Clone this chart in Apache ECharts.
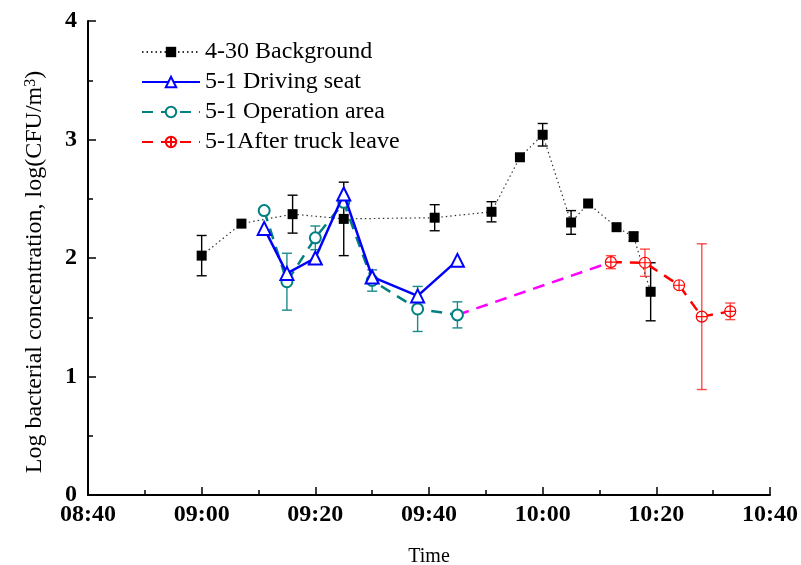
<!DOCTYPE html>
<html>
<head>
<meta charset="utf-8">
<script src="https://cdn.jsdelivr.net/npm/echarts@6/dist/echarts.min.js"></script>
<style>
  html, body { margin: 0; padding: 0; background: #fff; }
  #chart { width: 801px; height: 565px; }
</style>
</head>
<body>
<div id="chart"></div>
<script>
// 4-30 background sampling
const bgTimes  = ['09:00','09:07','09:16','09:25','09:41','09:51','09:56','10:00','10:05','10:08','10:13','10:16','10:19'];
const bgValues = [2.02, 2.29, 2.37, 2.33, 2.34, 2.39, 2.85, 3.04, 2.30, 2.46, 2.26, 2.18, 1.715];
const bgErr    = [0.17, null, 0.16, 0.31, 0.11, 0.085, null, 0.095, 0.10, null, null, 0.04, 0.245];

// 5-1 driving seat
const dsTimes  = ['09:11','09:15','09:20','09:25','09:30','09:38','09:45'];
const dsValues = [2.25, 1.87, 2.00, 2.54, 1.84, 1.68, 1.98];

// 5-1 operation area
const opTimes  = ['09:11','09:15','09:20','09:25','09:30','09:38','09:45'];
const opValues = [2.40, 1.80, 2.17, 2.47, 1.81, 1.57, 1.52];
const opErr    = [0.02, 0.24, 0.10, 0.03, 0.09, 0.19, 0.11];

// 5-1 after the truck left
const atTimes  = ['10:12','10:18','10:24','10:28','10:33'];
const atValues = [1.965, 1.96, 1.77, 1.505, 1.55];
const atErr    = [0.055, 0.115, null, 0.615, 0.07];

const yTicks = [0, 1, 2, 3, 4];
const xTickStart = '08:40', xTickEnd = '10:40';

const toMin = s => { const p = s.split(':').map(Number); return p[0] * 60 + p[1]; };
const pad = n => (n < 10 ? '0' : '') + n;
const fmt = v => pad(Math.floor(v / 60)) + ':' + pad(v % 60);

const pts = (t, v) => t.map((s, i) => [toMin(s), v[i]]);
const bars = (t, v, e) => t.map((s, i) => e[i] == null ? null : [toMin(s), v[i] - e[i], v[i] + e[i]]).filter(Boolean);

const FONT = 'Liberation Serif';
const TEAL = '#008080';
const crossCircle = 'path://M0,10A10,10,0,1,1,20,10A10,10,0,1,1,0,10ZM10,0L10,20M0,10L20,10';

function errorSeries(data, color, z) {
  return {
    type: 'custom',
    data: data,
    z: z,
    encode: { x: 0, y: [1, 2] },
    renderItem: function (params, api) {
      const x = api.value(0);
      const top = api.coord([x, api.value(2)]);
      const bot = api.coord([x, api.value(1)]);
      const w = 5;
      const st = { stroke: color, lineWidth: 1.4, fill: null };
      return {
        type: 'group',
        children: [
          { type: 'line', shape: { x1: top[0], y1: top[1], x2: bot[0], y2: bot[1] }, style: st },
          { type: 'line', shape: { x1: top[0] - w, y1: top[1], x2: top[0] + w, y2: top[1] }, style: st },
          { type: 'line', shape: { x1: bot[0] - w, y1: bot[1], x2: bot[0] + w, y2: bot[1] }, style: st }
        ]
      };
    }
  };
}

const chart = echarts.init(document.getElementById('chart'));
chart.setOption({
  animation: false,
  backgroundColor: '#fff',
  textStyle: { fontFamily: FONT },
  grid: { left: 88, right: 31, top: 21, bottom: 70, containLabel: false, outerBoundsMode: 'none' },
  legend: {
    data: ['4-30 Background', '5-1 Driving seat', '5-1 Operation area', '5-1After truck leave'],
    orient: 'vertical',
    left: 141,
    top: 40,
    padding: 0,
    itemWidth: 58,
    itemHeight: 13,
    itemGap: 6,
    textStyle: { fontFamily: FONT, fontSize: 24, color: '#000' }
  },
  xAxis: {
    type: 'value',
    min: toMin(xTickStart),
    max: toMin(xTickEnd),
    interval: 20,
    name: 'Time',
    nameLocation: 'middle',
    nameGap: 52,
    nameTextStyle: { fontFamily: FONT, fontSize: 20, color: '#000' },
    axisLine: { lineStyle: { color: '#000', width: 2 } },
    axisTick: { inside: true, length: 8, lineStyle: { color: '#000', width: 1.5 } },
    minorTick: { show: true, splitNumber: 2, length: 5, lineStyle: { color: '#000', width: 1.5 } },
    splitLine: { show: false },
    axisLabel: { formatter: fmt, fontFamily: FONT, fontSize: 24, fontWeight: 'bold', color: '#000', margin: 8 }
  },
  yAxis: {
    type: 'value',
    min: yTicks[0],
    max: yTicks[yTicks.length - 1],
    interval: 1,
    name: 'Log bacterial concentration, log(CFU/m{sup|3})',
    nameLocation: 'middle',
    nameGap: 41,
    nameTextStyle: {
      fontFamily: FONT, fontSize: 24, color: '#000',
      padding: [0, 28, 0, 0],
      rich: { sup: { fontFamily: FONT, fontSize: 16, color: '#000', verticalAlign: 'top', padding: [0, 0, 8, 0] } }
    },
    axisLine: { show: true, lineStyle: { color: '#000', width: 2 } },
    axisTick: { show: true, inside: true, length: 8, lineStyle: { color: '#000', width: 1.5 } },
    minorTick: { show: true, splitNumber: 2, length: 5, lineStyle: { color: '#000', width: 1.5 } },
    splitLine: { show: false },
    axisLabel: { fontFamily: FONT, fontSize: 24, fontWeight: 'bold', color: '#000', margin: 11 }
  },
  series: [
    errorSeries(bars(bgTimes, bgValues, bgErr), '#000', 2),
    errorSeries(bars(opTimes, opValues, opErr), '#1a8a8a', 2),
    errorSeries(bars(atTimes, atValues, atErr), 'rgba(255,30,30,0.8)', 2),
    {
      name: 'connector',
      type: 'line',
      data: [[toMin(opTimes[opTimes.length - 1]), opValues[opValues.length - 1]], [toMin(atTimes[0]), atValues[0]]],
      symbol: 'none',
      z: 1,
      lineStyle: { color: '#ff00ff', width: 2.5, type: [12, 8] }
    },
    {
      name: '4-30 Background',
      type: 'line',
      data: pts(bgTimes, bgValues),
      symbol: 'rect',
      symbolSize: 10,
      z: 3,
      itemStyle: { color: '#000' },
      lineStyle: { color: '#333', width: 1.2, type: [1.5, 3] }
    },
    {
      name: '5-1 Driving seat',
      type: 'line',
      data: pts(dsTimes, dsValues),
      symbol: 'emptyTriangle',
      symbolSize: 13,
      z: 4,
      itemStyle: { color: '#0000ff', borderWidth: 1.3 },
      lineStyle: { color: '#0000ff', width: 2.5 }
    },
    {
      name: '5-1 Operation area',
      type: 'line',
      data: pts(opTimes, opValues),
      symbol: 'emptyCircle',
      symbolSize: 11,
      z: 3,
      itemStyle: { color: TEAL, borderWidth: 1.3 },
      lineStyle: { color: TEAL, width: 2.5, type: [11, 8] }
    },
    {
      name: '5-1After truck leave',
      type: 'line',
      data: pts(atTimes, atValues),
      symbol: crossCircle,
      symbolSize: 11,
      symbolKeepAspect: true,
      z: 3,
      itemStyle: { color: '#fff', borderColor: '#ff0000', borderWidth: 1.2 },
      lineStyle: { color: '#ff0000', width: 2.5, type: [11, 8] }
    }
  ]
});
</script>
</body>
</html>
